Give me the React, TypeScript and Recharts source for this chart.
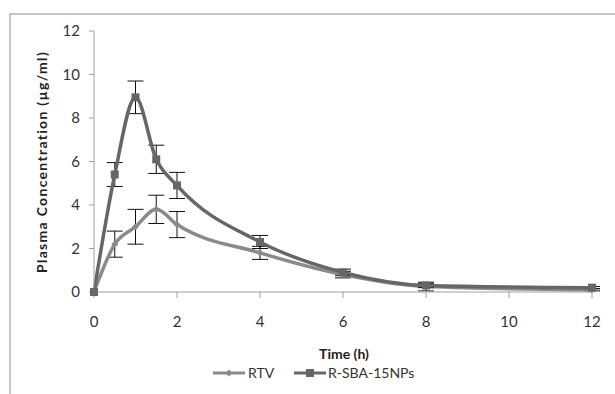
import { LineChart, Line, XAxis, YAxis, ErrorBar } from 'recharts';

const times = [0, 0.5, 1, 1.5, 2, 4, 6, 8, 12];
const rtv = [0, 2.2, 3.0, 3.8, 3.1, 1.8, 0.8, 0.25, 0.1];
const rtvErr = [0, 0.6, 0.8, 0.65, 0.6, 0.3, 0.15, 0.2, 0.05];
const sba = [0, 5.4, 8.95, 6.1, 4.9, 2.3, 0.9, 0.3, 0.2];
const sbaErr = [0, 0.55, 0.75, 0.65, 0.6, 0.3, 0.15, 0.1, 0.05];
const xTicks = [0, 2, 4, 6, 8, 10, 12];
const yTicks = [0, 2, 4, 6, 8, 10, 12];

const data = times.map((t, i) => ({
    time: t,
    rtv: rtv[i],
    rtvErr: rtvErr[i],
    sba: sba[i],
    sbaErr: sbaErr[i],
}));

const rtvColor = "#8a8a8a";
const sbaColor = "#666666";
const font = "Lato, 'Open Sans', sans-serif";

const Diamond = (props: any) => {
    const { cx, cy } = props;
    if (cx == null || cy == null) return null;
    return <path d={`M${cx},${cy - 3.5}L${cx + 3.5},${cy}L${cx},${cy + 3.5}L${cx - 3.5},${cy}Z`} fill={rtvColor} />;
};

const Square = (props: any) => {
    const { cx, cy } = props;
    if (cx == null || cy == null) return null;
    return <rect x={cx - 4} y={cy - 4} width={8} height={8} fill={sbaColor} />;
};

export default function App() {
    const tickStyle = { fontSize: 15, fill: "#333", fontFamily: font };

    return (
        <div style={{ position: "fixed", left: 0, top: 0, width: 615, height: 394, background: "#fff" }}>
            <div style={{
                position: "absolute", left: 9, top: 13, width: 620, height: 400,
                borderLeft: "2px solid #c4c4c4", borderTop: "2px solid #c4c4c4",
            }} />
            <LineChart width={615} height={394} data={data}
                margin={{ top: 31, right: 23, bottom: 72, left: 0 }}>
                <XAxis dataKey="time" type="number" domain={[0, 12]} ticks={xTicks}
                    stroke="#a0a0a0" tickSize={6} tickMargin={18} tick={tickStyle} height={30} />
                <YAxis type="number" domain={[0, 12]} ticks={yTicks} width={94}
                    stroke="#a0a0a0" tickSize={5} tickMargin={9} tick={tickStyle} />
                <Line dataKey="rtv" type="monotone" stroke={rtvColor} strokeWidth={3.5}
                    dot={<Diamond />} activeDot={false} isAnimationActive={false}>
                    <ErrorBar dataKey="rtvErr" direction="y" width={8} stroke="#111" strokeWidth={1} />
                </Line>
                <Line dataKey="sba" type="monotone" stroke={sbaColor} strokeWidth={3.5}
                    dot={<Square />} activeDot={false} isAnimationActive={false}>
                    <ErrorBar dataKey="sbaErr" direction="y" width={8} stroke="#111" strokeWidth={1} />
                </Line>
                <text x={43} y={162} transform="rotate(-90 43 162)" textAnchor="middle"
                    dominantBaseline="middle" fontFamily={font} fontWeight="bold" fontSize={14}
                    letterSpacing={1.3} fill="#222">
                    Plasma Concentration (µg/ml)
                </text>
                <text x={344} y={355} textAnchor="middle" dominantBaseline="middle"
                    fontFamily={font} fontWeight="bold" fontSize={14} fill="#222">
                    Time (h)
                </text>
                <g>
                    <line x1={213} x2={245} y1={373} y2={373} stroke={rtvColor} strokeWidth={3} />
                    <path d="M229,369.5L232.5,373L229,376.5L225.5,373Z" fill={rtvColor} />
                    <text x={248} y={374} dominantBaseline="middle" fontFamily={font} fontSize={14} fill="#333">RTV</text>
                    <line x1={294} x2={326} y1={373} y2={373} stroke={sbaColor} strokeWidth={3} />
                    <rect x={306} y={369} width={8} height={8} fill={sbaColor} />
                    <text x={328} y={374} dominantBaseline="middle" fontFamily={font} fontSize={14} fill="#333">R-SBA-15NPs</text>
                </g>
            </LineChart>
        </div>
    );
}
